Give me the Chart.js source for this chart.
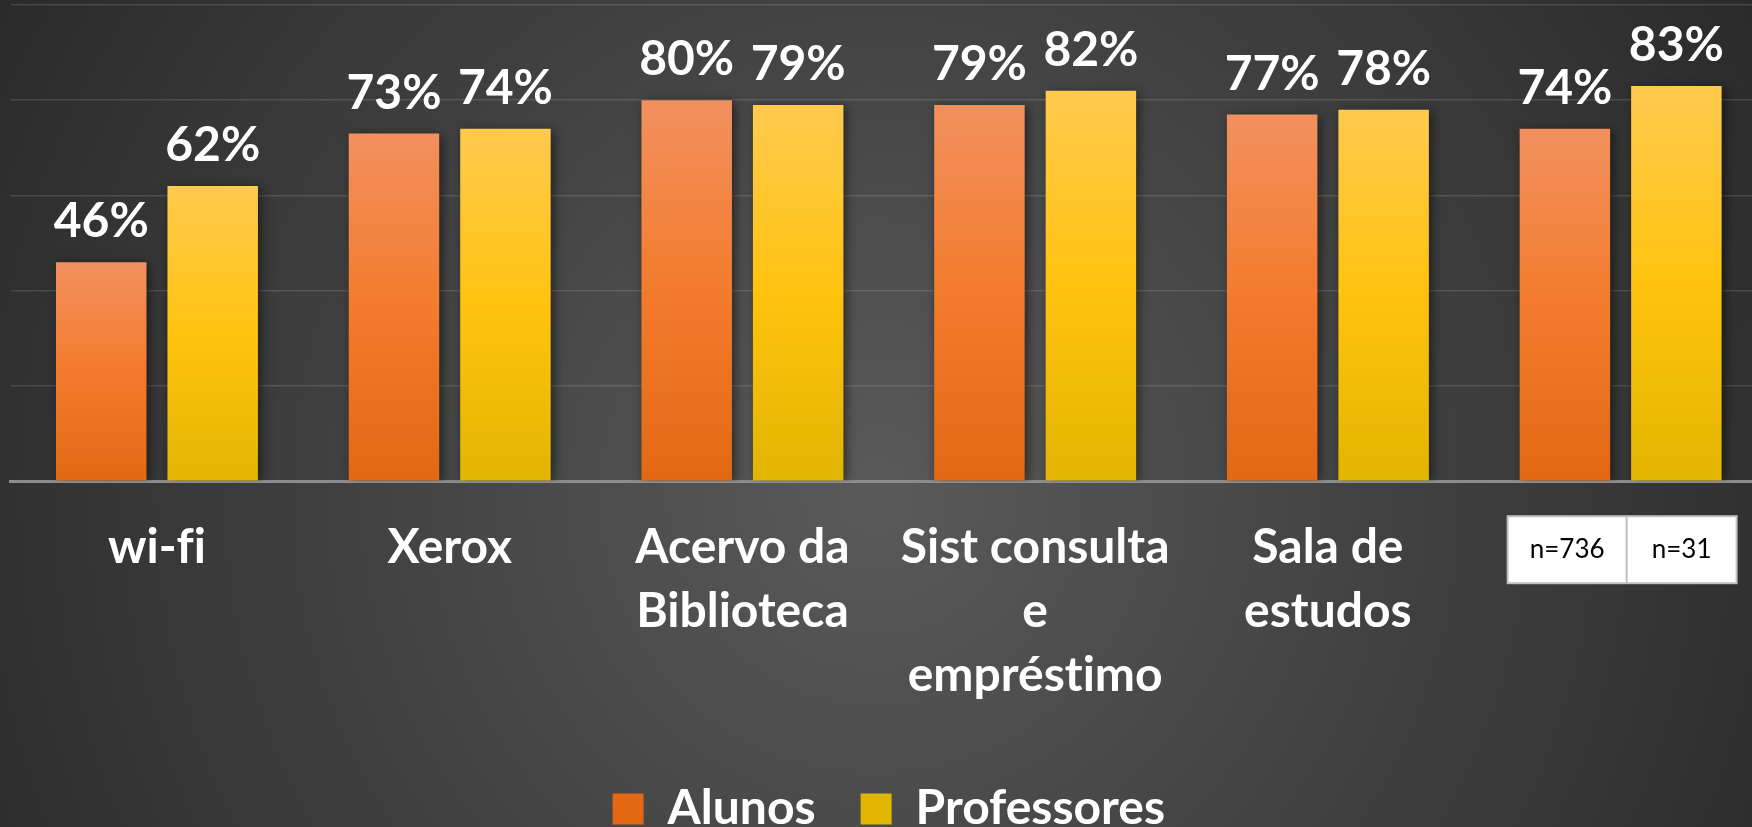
<!DOCTYPE html>
<html><head><meta charset="utf-8">
<script src="https://cdn.jsdelivr.net/npm/chart.js@4.4.0/dist/chart.umd.min.js"></script>
<style>
html,body{margin:0;padding:0;width:1752px;height:827px;overflow:hidden;}
body{background: radial-gradient(circle farthest-corner at 50% 60%, #5a5a5a 0%, #2a2a2a 100%);}
#wrap{position:absolute;left:0;top:0;width:1780px;height:843px;}
</style></head><body>
<div id="wrap"><canvas id="c" width="1780" height="843"></canvas></div>
<script>
const categories = ['wi-fi', 'Xerox', ['Acervo da', 'Biblioteca'], ['Sist consulta', 'e', 'empréstimo'], ['Sala de', 'estudos'], ''];
const seriesNames = ['Alunos', 'Professores'];
const alunos = [46, 73, 80, 79, 77, 74];
const professores = [62, 74, 79, 82, 78, 83];
const sampleSizes = ['n=736', 'n=31'];
const yMin = 0, yMax = 100, yStep = 20;

const FONT = 'Lato';
const FS = 48;

function barGradient(stops) {
  return (ctx) => {
    const chart = ctx.chart;
    if (!chart.chartArea || ctx.type !== 'data') return stops[1];
    const y = chart.scales.y;
    const top = y.getPixelForValue(ctx.parsed.y);
    const base = y.getPixelForValue(0);
    const g = chart.ctx.createLinearGradient(0, top, 0, base);
    g.addColorStop(0, stops[0]);
    g.addColorStop(0.5, stops[1]);
    g.addColorStop(1, stops[2]);
    return g;
  };
}

const noLigatures = {
  id: 'noLigatures',
  beforeDraw(chart) {
    const c = chart.ctx;
    try { c.textRendering = 'optimizeSpeed'; } catch (e) {}
  }
};

const shadowPlugin = {
  id: 'barShadow',
  beforeDatasetDraw(chart) {
    const c = chart.ctx; c.save();
    c.shadowColor = 'rgba(0,0,0,0.5)'; c.shadowBlur = 10; c.shadowOffsetX = 3; c.shadowOffsetY = 2;
  },
  afterDatasetDraw(chart) { chart.ctx.restore(); }
};

const valueLabels = {
  id: 'valueLabels',
  afterDatasetsDraw(chart) {
    const c = chart.ctx; c.save();
    c.font = 'bold ' + FS + 'px ' + FONT; c.fillStyle = '#ffffff';
    c.textAlign = 'center'; c.textBaseline = 'alphabetic';
    chart.data.datasets.forEach((ds, i) => {
      chart.getDatasetMeta(i).data.forEach((bar, j) => {
        c.fillText(ds.data[j] + '%', bar.x, bar.y - 25);
      });
    });
    c.restore();
  }
};

const sampleTable = {
  id: 'sampleTable',
  afterDraw(chart) {
    const c = chart.ctx; c.save();
    const cx = chart.scales.x.getPixelForValue(categories.length - 1);
    const left = cx - 113, top = chart.chartArea.bottom + 35, w1 = 119, w2 = 110, h = 67;
    c.fillStyle = '#ffffff';
    c.fillRect(left, top, w1 + w2, h);
    c.strokeStyle = '#bfbfbf'; c.lineWidth = 2;
    c.strokeRect(left, top, w1 + w2, h);
    c.beginPath(); c.moveTo(left + w1, top); c.lineTo(left + w1, top + h); c.stroke();
    c.fillStyle = '#000000'; c.font = '26px ' + FONT;
    c.textAlign = 'center'; c.textBaseline = 'middle';
    c.fillText(sampleSizes[0], left + w1 / 2, top + h / 2);
    c.fillText(sampleSizes[1], left + w1 + w2 / 2, top + h / 2);
    c.restore();
  }
};

new Chart(document.getElementById('c'), {
  type: 'bar',
  data: {
    labels: categories,
    datasets: [
      { label: seriesNames[0], data: alunos, backgroundColor: barGradient(['#F2905E', '#F37B2C', '#E26813']), borderWidth: 0 },
      { label: seriesNames[1], data: professores, backgroundColor: barGradient(['#FFCA4E', '#FFC30F', '#E2B500']), borderWidth: 0 }
    ]
  },
  options: {
    responsive: false,
    animation: false,
    devicePixelRatio: 1,
    categoryPercentage: 0.7616,
    barPercentage: 0.8117,
    layout: { padding: { left: 10.6, right: 13, top: 5, bottom: 0 } },
    plugins: {
      legend: {
        position: 'bottom',
        labels: {
          color: '#ffffff', boxWidth: 31, boxHeight: 31, padding: 45,
          font: { family: FONT, size: FS, weight: 'bold' }
        }
      },
      tooltip: { enabled: false }
    },
    scales: {
      x: {
        grid: { display: false, drawTicks: false },
        border: { display: true, color: '#8c8c8c', width: 3 },
        ticks: {
          color: '#ffffff', padding: 34, maxRotation: 0, autoSkip: false,
          font: { family: FONT, size: FS, weight: 'bold', lineHeight: 64 / FS }
        },
        afterFit(s) { s.height = 258.8; }
      },
      y: {
        min: yMin, max: yMax,
        ticks: { display: false, stepSize: yStep },
        grid: { color: 'rgba(255,255,255,0.13)', lineWidth: 1.5, drawTicks: false },
        border: { display: false }
      }
    }
  },
  plugins: [noLigatures, shadowPlugin, valueLabels, sampleTable]
});
</script>
</body></html>
